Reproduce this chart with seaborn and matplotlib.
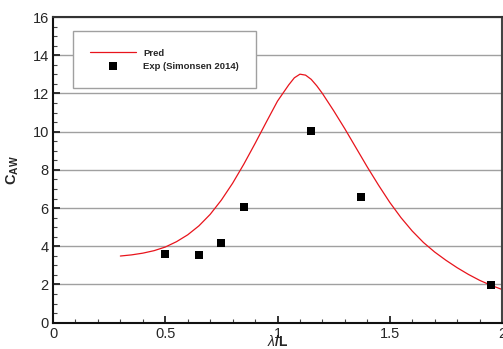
import matplotlib
matplotlib.use("Agg")
import matplotlib.pyplot as plt
from matplotlib.ticker import MultipleLocator
import seaborn as sns

# Data
pred_x = [0.30, 0.35, 0.40, 0.45, 0.50, 0.55, 0.60, 0.65, 0.70, 0.75, 0.80, 0.85,
          0.90, 0.95, 1.00, 1.05, 1.075, 1.10, 1.125, 1.15, 1.175, 1.20, 1.25, 1.30,
          1.35, 1.40, 1.45, 1.50, 1.55, 1.60, 1.65, 1.70, 1.75, 1.80, 1.85, 1.90,
          1.95, 2.00]
pred_y = [3.49, 3.55, 3.64, 3.77, 3.96, 4.24, 4.60, 5.07, 5.67, 6.42, 7.30, 8.30,
          9.38, 10.50, 11.60, 12.45, 12.82, 13.01, 12.96, 12.74, 12.40, 12.00, 11.10, 10.15,
          9.15, 8.15, 7.20, 6.30, 5.50, 4.80, 4.20, 3.70, 3.27, 2.88, 2.53, 2.22,
          1.96, 1.74]

exp_x = [0.50, 0.65, 0.75, 0.85, 1.15, 1.37, 1.95]
exp_y = [3.60, 3.54, 4.16, 6.07, 10.02, 6.60, 1.96]

x_ticks = [0, 0.5, 1, 1.5, 2]
x_tick_labels = ["0", "0.5", "1", "1.5", "2"]
y_ticks = [0, 2, 4, 6, 8, 10, 12, 14, 16]

sns.set_style("white")
plt.rcParams['font.family'] = ['Liberation Sans', 'DejaVu Sans']
plt.rcParams['mathtext.fontset'] = 'custom'
plt.rcParams['mathtext.rm'] = 'Liberation Sans'
plt.rcParams['mathtext.bf'] = 'Liberation Sans:bold'
plt.rcParams['mathtext.it'] = 'Liberation Sans:italic'

fig = plt.figure(figsize=(5.03, 3.49), dpi=100)
ax = fig.add_axes([0.1054, 0.0754, 0.8926, 0.8757])

sns.lineplot(x=pred_x, y=pred_y, ax=ax, color='#e8141c', linewidth=0.9,
             label='Pred', sort=False)
sns.scatterplot(x=exp_x, y=exp_y, ax=ax, marker='s', color='black', s=36,
                edgecolor='black', linewidth=0, label='Exp (Simonsen 2014)', zorder=5)

ax.set_xlim(0, 2)
ax.set_ylim(0, 16)
ax.set_xticks(x_ticks)
ax.set_xticklabels(x_tick_labels)
ax.set_yticks(y_ticks)
ax.xaxis.set_minor_locator(MultipleLocator(0.1))
ax.yaxis.set_minor_locator(MultipleLocator(0.5))
ax.tick_params(axis='both', which='major', direction='in', length=5, width=1.3,
               labelsize=10.5, color='#222222', pad=3)
ax.tick_params(axis='both', which='minor', direction='in', length=2.8, width=0.8,
               color='#444444')
ax.tick_params(axis='x', which='both', top=False, bottom=True)
ax.tick_params(axis='y', which='both', left=True, right=False)

ax.yaxis.grid(True, color='#a0a0a0', linewidth=1.0)
ax.xaxis.grid(False)
ax.set_axisbelow(True)

for side in ['left', 'bottom', 'top', 'right']:
    ax.spines[side].set_linewidth(1.5)
ax.spines['left'].set_color('#111111')
ax.spines['bottom'].set_color('#111111')
ax.spines['top'].set_color('#333333')
ax.spines['right'].set_color('#444444')

ax.set_xlabel(r'$\lambda$/L', fontsize=10, fontweight='bold', labelpad=-5)
ax.set_ylabel(r'$\mathbf{C_{AW}}$', fontsize=10.5, labelpad=8)

leg = ax.legend(loc='upper left', bbox_to_anchor=(0.0445, 0.954), borderaxespad=0,
                prop={'weight': 'bold', 'size': 6.8},
                frameon=True, fancybox=False, framealpha=1, edgecolor='#a0a0a0',
                borderpad=1.85, handlelength=4.8, handletextpad=0.75,
                labelspacing=0.45)
leg.get_frame().set_linewidth(1.0)

fig.savefig('out.png', dpi=100)
